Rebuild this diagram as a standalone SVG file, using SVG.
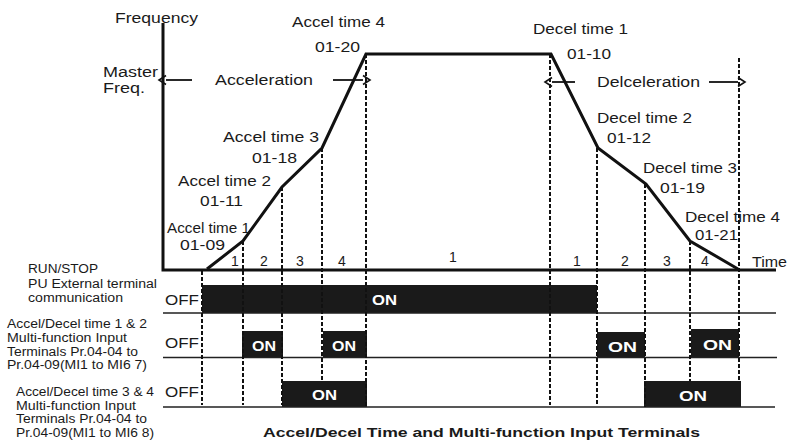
<svg xmlns="http://www.w3.org/2000/svg" width="787" height="441" viewBox="0 0 787 441">
<defs>
<style>
text{font-family:"Liberation Sans",Arial,sans-serif;fill:#1a1a1a}
.t{font-size:14px}
.s{font-size:12px}
.on{font-size:14px;font-weight:bold;fill:#fff}
.cap{font-size:13px;font-weight:bold}
.axis{stroke:#111;stroke-width:3;fill:none}
.curve{stroke:#111;stroke-width:3;fill:none;stroke-linejoin:miter}
.dash{stroke:#111;stroke-width:2;stroke-dasharray:4 2;fill:none}
.base{stroke:#222;stroke-width:1.5;fill:none}
.bar{fill:#1a1a1a}
.arr{stroke:#111;stroke-width:1.8;fill:none;marker-end:url(#ah)}
</style>
<marker id="ah" viewBox="-1 -6 10 12" refX="0" refY="0" markerWidth="10" markerHeight="12" markerUnits="userSpaceOnUse" orient="auto">
<path d="M0,-4.5 L7,0 L0,4.5" fill="none" stroke="#111" stroke-width="1.6"/>
</marker>
</defs>
<rect width="787" height="441" fill="#fff"/>

<g id="signals">
<rect class="bar" x="202" y="285" width="395" height="28"/>
<rect class="bar" x="242" y="331" width="41" height="26"/>
<rect class="bar" x="323" y="331" width="44" height="26"/>
<rect class="bar" x="597" y="332" width="48" height="26"/>
<rect class="bar" x="691" y="329" width="48" height="29"/>
<rect class="bar" x="282" y="381" width="85" height="26"/>
<rect class="bar" x="644" y="381" width="97" height="26"/>
<path class="base" d="M163,313 H776 M163,357.5 H777 M163,407 H775"/>
</g>

<g id="dashes">
<path class="dash" d="M202,271 V405 M243,241 V405 M282,187 V405 M322,148 V381 M366,54 V407 M550,54 V405 M597,148 V405 M645,184 V407 M690,241 V381 M739,58 V381"/>
</g>

<g id="axes">
<path class="axis" d="M163,23 V270 H776"/>
<path class="curve" d="M207,269 L243,241 L282,187 L322,148 L366,54 L551,54 L598,148 L646,184 L690,241 L738,269"/>
</g>

<g id="connectors">
<line class="arr" x1="192" y1="80" x2="166" y2="80"/>
<line class="arr" x1="333" y1="80" x2="363" y2="80"/>
<line class="arr" x1="575" y1="82" x2="552" y2="82"/>
<line class="arr" x1="709" y1="82" x2="738" y2="82"/>
</g>

<g id="labels-top">
<text class="t" x="115" y="23" textLength="83" lengthAdjust="spacingAndGlyphs">Frequency</text>
<text class="t" x="292" y="27" textLength="93" lengthAdjust="spacingAndGlyphs">Accel time 4</text>
<text class="t" x="315" y="52" textLength="45" lengthAdjust="spacingAndGlyphs">01-20</text>
<text class="t" x="103" y="77" textLength="55" lengthAdjust="spacingAndGlyphs">Master</text>
<text class="t" x="103" y="93" textLength="42" lengthAdjust="spacingAndGlyphs">Freq.</text>
<text class="t" x="215" y="85" textLength="98" lengthAdjust="spacingAndGlyphs">Acceleration</text>
<text class="t" x="223" y="142" textLength="96" lengthAdjust="spacingAndGlyphs">Accel time 3</text>
<text class="t" x="252" y="163" textLength="45" lengthAdjust="spacingAndGlyphs">01-18</text>
<text class="t" x="178" y="186" textLength="93" lengthAdjust="spacingAndGlyphs">Accel time 2</text>
<text class="t" x="200" y="206" textLength="43" lengthAdjust="spacingAndGlyphs">01-11</text>
<text class="t" x="167" y="233" textLength="83" lengthAdjust="spacingAndGlyphs">Accel time 1</text>
<text class="t" x="180" y="250" textLength="45" lengthAdjust="spacingAndGlyphs">01-09</text>
<text class="t" x="533" y="34" textLength="95" lengthAdjust="spacingAndGlyphs">Decel time 1</text>
<text class="t" x="567" y="59" textLength="44" lengthAdjust="spacingAndGlyphs">01-10</text>
<text class="t" x="597" y="87" textLength="103" lengthAdjust="spacingAndGlyphs">Delceleration</text>
<text class="t" x="597" y="123" textLength="95" lengthAdjust="spacingAndGlyphs">Decel time 2</text>
<text class="t" x="607" y="143" textLength="44" lengthAdjust="spacingAndGlyphs">01-12</text>
<text class="t" x="643" y="173" textLength="94" lengthAdjust="spacingAndGlyphs">Decel time 3</text>
<text class="t" x="660" y="193" textLength="45" lengthAdjust="spacingAndGlyphs">01-19</text>
<text class="t" x="685" y="222" textLength="95" lengthAdjust="spacingAndGlyphs">Decel time 4</text>
<text class="t" x="695" y="240" textLength="43" lengthAdjust="spacingAndGlyphs">01-21</text>
<text class="t" x="752" y="267" textLength="35" lengthAdjust="spacingAndGlyphs">Time</text>
</g>

<g id="intervals" text-anchor="middle">
<text class="t" x="235" y="266">1</text>
<text class="t" x="264" y="266">2</text>
<text class="t" x="300" y="266">3</text>
<text class="t" x="342" y="266">4</text>
<text class="t" x="453" y="262">1</text>
<text class="t" x="577" y="266">1</text>
<text class="t" x="625" y="266">2</text>
<text class="t" x="667" y="266">3</text>
<text class="t" x="705" y="266">4</text>
</g>

<g id="row1-label">
<text class="s" x="28" y="273" textLength="70" lengthAdjust="spacingAndGlyphs">RUN/STOP</text>
<text class="s" x="28" y="288" textLength="129" lengthAdjust="spacingAndGlyphs">PU External terminal</text>
<text class="s" x="28" y="302" textLength="95" lengthAdjust="spacingAndGlyphs">communication</text>
</g>
<g id="row2-label">
<text class="s" x="7" y="328" textLength="140" lengthAdjust="spacingAndGlyphs">Accel/Decel time 1 &amp; 2</text>
<text class="s" x="7" y="342" textLength="120" lengthAdjust="spacingAndGlyphs">Multi-function Input</text>
<text class="s" x="7" y="356" textLength="131" lengthAdjust="spacingAndGlyphs">Terminals Pr.04-04 to</text>
<text class="s" x="7" y="369" textLength="140" lengthAdjust="spacingAndGlyphs">Pr.04-09(MI1 to MI6 7)</text>
</g>
<g id="row3-label">
<text class="s" x="16" y="396" textLength="138" lengthAdjust="spacingAndGlyphs">Accel/Decel time 3 &amp; 4</text>
<text class="s" x="16" y="410" textLength="120" lengthAdjust="spacingAndGlyphs">Multi-function Input</text>
<text class="s" x="16" y="423" textLength="131" lengthAdjust="spacingAndGlyphs">Terminals Pr.04-04 to</text>
<text class="s" x="16" y="437" textLength="138" lengthAdjust="spacingAndGlyphs">Pr.04-09(MI1 to MI6 8)</text>
</g>

<g id="states">
<text class="t" x="165" y="305" textLength="34" lengthAdjust="spacingAndGlyphs">OFF</text>
<text class="t" x="165" y="348" textLength="34" lengthAdjust="spacingAndGlyphs">OFF</text>
<text class="t" x="165" y="397" textLength="34" lengthAdjust="spacingAndGlyphs">OFF</text>
<text class="on" x="372" y="305" textLength="25" lengthAdjust="spacingAndGlyphs">ON</text>
<text class="on" x="252" y="351" textLength="24" lengthAdjust="spacingAndGlyphs">ON</text>
<text class="on" x="332" y="351" textLength="24" lengthAdjust="spacingAndGlyphs">ON</text>
<text class="on" x="608" y="352" textLength="29" lengthAdjust="spacingAndGlyphs">ON</text>
<text class="on" x="703" y="350" textLength="29" lengthAdjust="spacingAndGlyphs">ON</text>
<text class="on" x="312" y="400" textLength="25" lengthAdjust="spacingAndGlyphs">ON</text>
<text class="on" x="679" y="401" textLength="28" lengthAdjust="spacingAndGlyphs">ON</text>
</g>

<g id="caption">
<text class="cap" x="263" y="437" textLength="437" lengthAdjust="spacingAndGlyphs">Accel/Decel Time and Multi-function Input Terminals</text>
</g>
</svg>
